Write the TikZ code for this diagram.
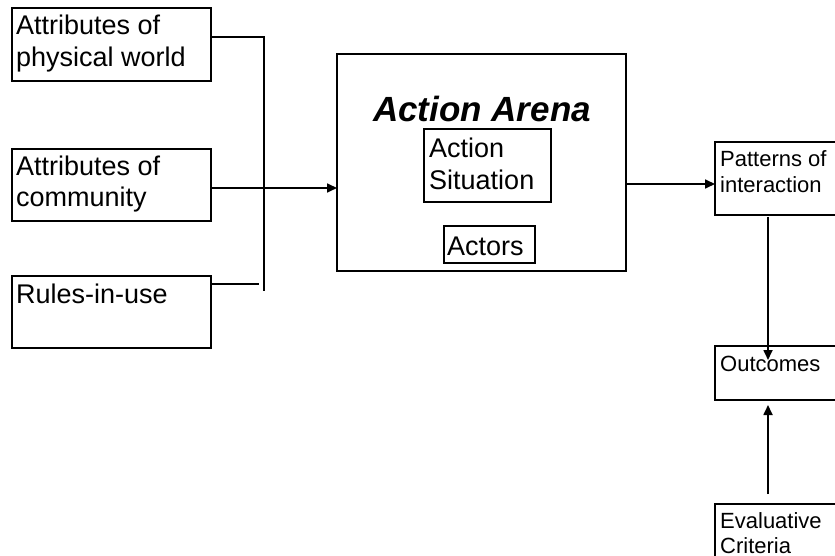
\documentclass[tikz,border=0pt]{standalone}
\usepackage{fontspec}
\setmainfont{Liberation Sans}
\usetikzlibrary{arrows.meta}
\begin{document}
\begin{tikzpicture}[x=1pt,y=-1pt,
  box/.style={draw,line width=1.7pt,rectangle,anchor=north west,inner sep=0pt,outer sep=0pt},
  lbl/.style={anchor=base west,inner sep=0pt,font=\fontsize{27}{31}\selectfont},
  slbl/.style={anchor=base west,inner sep=0pt,font=\fontsize{22}{26}\selectfont},
  conn/.style={line width=1.7pt},
  arr/.style={conn,-{Triangle[length=10pt,width=9pt]}}]
\useasboundingbox (0,0) rectangle (835,556);
\clip (0,0) rectangle (835,556);
\fill[white] (0,0) rectangle (835,556);
% boxes
\node[box,minimum width=199pt,minimum height=73pt] (b1) at (12,8) {};
\node[box,minimum width=199pt,minimum height=72pt] (b2) at (12,149) {};
\node[box,minimum width=199pt,minimum height=72pt] (b3) at (12,276) {};
\node[box,minimum width=289pt,minimum height=217pt] (arena) at (337,54) {};
\node[box,minimum width=127pt,minimum height=73pt] (sit) at (424,129) {};
\node[box,minimum width=91pt,minimum height=37pt] (act) at (444,226) {};
\node[box,minimum width=160pt,minimum height=73pt] (pat) at (715,142) {};
\node[box,minimum width=160pt,minimum height=54pt] (out) at (715,346) {};
\node[box,minimum width=160pt,minimum height=90pt] (ev) at (715,504) {};
% texts
\node[lbl] (t1a) at (16,35) {Attributes of};
\node[lbl] (t1b) at (16,67) {physical world};
\node[lbl] (t2a) at (16,176) {Attributes of};
\node[lbl] (t2b) at (16,207) {community};
\node[lbl] (t3) at (16,303) {Rules-in-use};
\node[anchor=base,inner sep=0pt,font=\fontsize{35}{40}\selectfont\bfseries\itshape] (ttl) at (482,122) {Action Arena};
\node[lbl] (s1) at (429,158) {Action};
\node[lbl] (s2) at (429,190) {Situation};
\node[lbl] (a1) at (447,255) {Actors};
\node[slbl] (p1) at (720,167) {Patterns of};
\node[slbl] (p2) at (720,193) {interaction};
\node[slbl] (o1) at (720,371) {Outcomes};
\node[slbl] (e1) at (720,528) {Evaluative};
\node[slbl] (e2) at (720,553) {Criteria};
% connectors
\coordinate (j1) at (264,37);
\coordinate (j2) at (264,291);
\coordinate (j3) at (259,284);
\draw[conn] ([yshift=-29pt]b1.north east) -- (j1) -- (j2);
\draw[conn] ([yshift=-8pt]b3.north east) -- (j3);
\draw[arr] ([yshift=-39pt]b2.north east) coordinate (s2a) -- (s2a -| arena.west);
\draw[arr] ([yshift=-130pt]arena.north east) coordinate (sa) -- (sa -| pat.west);
\draw[arr] ([xshift=53pt,yshift=-2pt]pat.south west) -- ([xshift=53pt,yshift=-14pt]out.north west);
\draw[arr] ([xshift=53pt,yshift=10pt]ev.north west) -- ([xshift=53pt,yshift=-5pt]out.south west);
\end{tikzpicture}
\end{document}
